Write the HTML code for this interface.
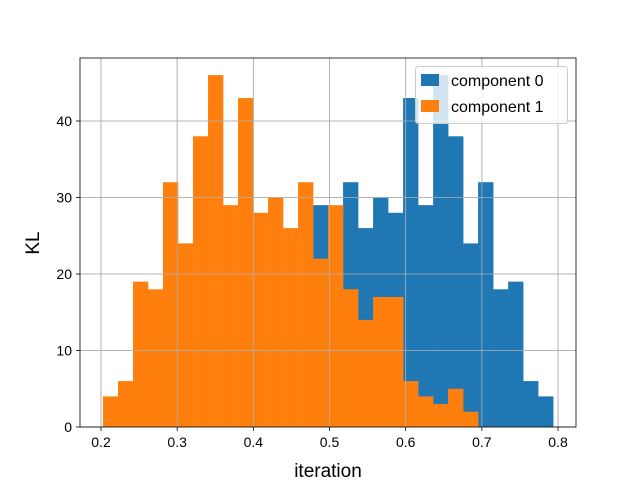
<!DOCTYPE html>
<html><head><meta charset="utf-8"><style>body{margin:0;background:#fff}svg{display:block;font-family:"Liberation Sans","DejaVu Sans",sans-serif}</style></head>
<body>
<svg id="chart" width="640" height="480"></svg>
<script>
const binStart = 0.2026;
const binWidth = 0.0197;
const comp0Offset = 14;
const comp0Counts = [29,28,32,26,30,28,43,29,46,38,24,32,18,19,6,4];
const comp1Counts = [4,6,19,18,32,24,38,46,29,43,28,30,26,32,22,29,18,14,17,17,6,4,3,5,2];
const xTicks = [0.2,0.3,0.4,0.5,0.6,0.7,0.8];
const yTicks = [0,10,20,30,40];
const seriesNames = ["component 0","component 1"];

const svg = document.getElementById('chart');
const NS = 'http://www.w3.org/2000/svg';
const L=80,R=576,T=58,B=427;
const xs = v => 101 + (v-0.2)*761.7;
const ys = v => 427 - v*7.65;
function mk(tag, attrs, parent){const e=document.createElementNS(NS,tag);for(const k in attrs)e.setAttribute(k,attrs[k]);(parent||svg).appendChild(e);return e;}

const grid = mk('g',{});


xTicks.forEach(t=>{const l=mk('line',{x1:xs(t),x2:xs(t),y1:T,y2:B,stroke:'#b0b0b0','stroke-width':0.8},grid);

});
yTicks.forEach(t=>{const l=mk('line',{x1:L,x2:R,y1:ys(t),y2:ys(t),stroke:'#b0b0b0','stroke-width':0.8},grid);

});

function drawSeries(counts, offset, color, name){
  const g=mk('g',{});
  
  
  counts.forEach((c,i)=>{
    const x0=xs(binStart+(offset+i)*binWidth), x1=xs(binStart+(offset+i+1)*binWidth);
    const r=mk('rect',{x:x0,y:ys(c),width:x1-x0+0.3,height:ys(0)-ys(c),fill:color},g);
    
    
  });
}
drawSeries(comp0Counts, comp0Offset, '#1f77b4', 'series-component-0');
drawSeries(comp1Counts, 0, '#ff7f0e', 'series-component-1');

// grid drawn above bars like matplotlib with axisbelow? redraw on top lightly
const grid2 = grid.cloneNode(true);

svg.appendChild(grid2);

const frame=mk('rect',{x:L,y:T,width:R-L,height:B-T,fill:'none',stroke:'#000','stroke-width':0.8});



xTicks.forEach(t=>{
  const l=mk('line',{x1:xs(t),x2:xs(t),y1:B,y2:B+4,stroke:'#000','stroke-width':0.8});
  
  
  const tx=mk('text',{x:xs(t),y:B+20,'font-size':14,'text-anchor':'middle'});
  tx.textContent=t.toFixed(1);
  
  
});
yTicks.forEach(t=>{
  const l=mk('line',{x1:L-4,x2:L,y1:ys(t),y2:ys(t),stroke:'#000','stroke-width':0.8});
  
  
  const tx=mk('text',{x:L-8,y:ys(t)+5,'font-size':14,'text-anchor':'end'});
  tx.textContent=String(t);
  
  
});
const xl=mk('text',{x:328,y:477,'font-size':19,'text-anchor':'middle'});
xl.textContent='iteration';


const yl=mk('text',{x:0,y:0,'font-size':19,'text-anchor':'middle',transform:'translate(39,243) rotate(-90)'});
yl.textContent='KL';



const lg=mk('g',{});


mk('rect',{x:415.5,y:66.5,width:152,height:57,rx:3,fill:'#fff','fill-opacity':0.8,stroke:'#ccc'},lg);
['#1f77b4','#ff7f0e'].forEach((c,i)=>{
  const y=74+i*26;
  const s=mk('rect',{x:421,y:y,width:18,height:12,fill:c},lg);
  
  
  const t=mk('text',{x:451,y:y+12,'font-size':16},lg);
  t.textContent=seriesNames[i];
  
  
});
</script>
</body></html>
